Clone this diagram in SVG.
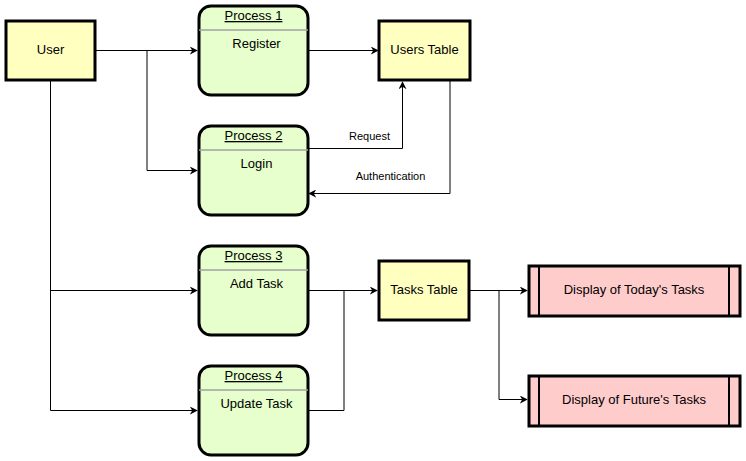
<svg xmlns="http://www.w3.org/2000/svg" width="746" height="461" viewBox="0 0 746 461">
<style>
text{font-family:"Liberation Sans",Arial,sans-serif;font-size:13px;fill:#000;text-anchor:middle}
.ent{fill:#ffffc0;stroke:#000;stroke-width:3}
.proc{fill:#e6ffcc;stroke:#000;stroke-width:3}
.out{fill:#ffcccc;stroke:#000;stroke-width:3}
.div{stroke:#a0a0a0;stroke-width:1.5}
.title{text-decoration:underline}
.lbl{font-size:11px}
#connectors path{fill:none;stroke:#000;stroke-width:1}
</style>
<defs>
<marker id="arr" viewBox="0 0 10 10" refX="9" refY="5" markerWidth="8" markerHeight="8" markerUnits="userSpaceOnUse" orient="auto">
<path d="M0,0 L10,5 L0,10 L3,5 Z" fill="#000"/>
</marker>
</defs>
<rect width="746" height="461" fill="#fff"/>
<g id="connectors">
<path d="M96,50.5 H197" marker-end="url(#arr)"/>
<path d="M147,50.5 V170.5 H197" marker-end="url(#arr)"/>
<path d="M50.5,81 V410.5 H197" marker-end="url(#arr)"/>
<path d="M50.5,290.5 H197" marker-end="url(#arr)"/>
<path d="M308,50.5 H378" marker-end="url(#arr)"/>
<path d="M308,148.5 H402.5 V82" marker-end="url(#arr)"/>
<path d="M450,81 V193.5 H309" marker-end="url(#arr)"/>
<path d="M308,290.5 H377" marker-end="url(#arr)"/>
<path d="M308,410.5 H344 V290.5"/>
<path d="M470,290.5 H527" marker-end="url(#arr)"/>
<path d="M499,290.5 V399.5 H527" marker-end="url(#arr)"/>
<text class="lbl" x="369.5" y="140">Request</text>
<text class="lbl" x="390.5" y="180">Authentication</text>
</g>
<g id="user"><rect class="ent" x="6" y="21" width="89" height="59"/><text x="50.5" y="54">User</text></g>
<g id="users-table"><rect class="ent" x="379" y="21" width="91" height="59"/><text x="424.5" y="54">Users Table</text></g>
<g id="tasks-table"><rect class="ent" x="379" y="261" width="90" height="59"/><text x="424" y="294">Tasks Table</text></g>
<g id="process1"><rect class="proc" x="199" y="6" width="109" height="89" rx="12"/><line class="div" x1="199" y1="30" x2="308" y2="30"/><text class="title" x="253.5" y="20">Process 1</text><text x="256.5" y="48">Register</text></g>
<g id="process2"><rect class="proc" x="199" y="126" width="109" height="89" rx="12"/><line class="div" x1="199" y1="150" x2="308" y2="150"/><text class="title" x="253.5" y="140">Process 2</text><text x="256.5" y="168">Login</text></g>
<g id="process3"><rect class="proc" x="199" y="246" width="109" height="89" rx="12"/><line class="div" x1="199" y1="270" x2="308" y2="270"/><text class="title" x="253.5" y="260">Process 3</text><text x="256.5" y="288">Add Task</text></g>
<g id="process4"><rect class="proc" x="199" y="366" width="109" height="89" rx="12"/><line class="div" x1="199" y1="390" x2="308" y2="390"/><text class="title" x="253.5" y="380">Process 4</text><text x="256.5" y="408">Update Task</text></g>
<g id="today"><rect class="out" x="529" y="266" width="211" height="50"/><line x1="539" y1="266" x2="539" y2="316" stroke="#000" stroke-width="2"/><line x1="729" y1="266" x2="729" y2="316" stroke="#000" stroke-width="2"/><text x="634" y="294">Display of Today's Tasks</text></g>
<g id="future"><rect class="out" x="529" y="376" width="211" height="50"/><line x1="539" y1="376" x2="539" y2="426" stroke="#000" stroke-width="2"/><line x1="729" y1="376" x2="729" y2="426" stroke="#000" stroke-width="2"/><text x="634" y="404">Display of Future's Tasks</text></g>
</svg>
